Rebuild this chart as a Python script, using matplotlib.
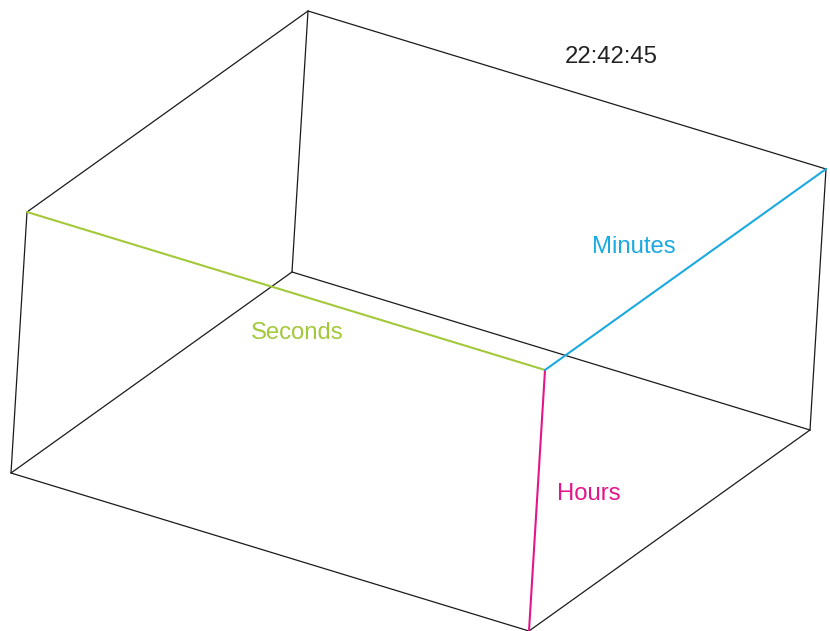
import numpy as np
import matplotlib
matplotlib.use("Agg")
import matplotlib.pyplot as plt

# time shown by the box: width = seconds, depth = minutes, height = hours
HOURS = 22
MINUTES = 42
SECONDS = 45

TIME_LABEL = "22:42:45"
EDGE_LABELS = ["Seconds", "Minutes", "Hours"]
EDGE_COLORS = ["#a3c83a", "#1aa9e1", "#e4148a"]

# oblique projection (pixel offset per unit along each axis)
ORIGIN = np.array([11.0, 473.0])
S_VEC = np.array([518.0, 158.0]) / 45
M_VEC = np.array([281.0, -201.0]) / 42
H_VEC = np.array([16.0, -261.0]) / 22

W, H = 830, 631


def project(s, m, h):
    return ORIGIN + s * S_VEC + m * M_VEC + h * H_VEC


def main():
    plt.rcParams["font.family"] = ["Liberation Sans", "DejaVu Sans"]
    fig = plt.figure(figsize=(W / 100, H / 100), dpi=100)
    ax = fig.add_axes([0, 0, 1, 1])
    ax.set_xlim(0, W)
    ax.set_ylim(H, 0)
    ax.axis("off")

    corners = {}
    for s in (0, SECONDS):
        for m in (0, MINUTES):
            for h in (0, HOURS):
                corners[(s, m, h)] = project(s, m, h)

    front = (SECONDS, 0, HOURS)
    colored = {
        ((0, 0, HOURS), front): 0,
        ((SECONDS, MINUTES, HOURS), front): 1,
        ((SECONDS, 0, 0), front): 2,
    }

    keys = list(corners)
    for i, a in enumerate(keys):
        for b in keys[i + 1:]:
            diff = sum(x != y for x, y in zip(a, b))
            if diff != 1:
                continue
            idx = colored.get((a, b), colored.get((b, a)))
            pa, pb = corners[a], corners[b]
            if idx is None:
                ax.plot([pa[0], pb[0]], [pa[1], pb[1]], color="#1a1a1a",
                        lw=0.9, solid_capstyle="round", zorder=1)
            else:
                ax.plot([pa[0], pb[0]], [pa[1], pb[1]], color=EDGE_COLORS[idx],
                        lw=1.5, solid_capstyle="round", zorder=2)

    fs = 17.2
    ax.text(611, 57, TIME_LABEL, fontsize=fs, color="#222222",
            ha="center", va="center")
    ax.text(297, 333, EDGE_LABELS[0], fontsize=fs, color=EDGE_COLORS[0],
            ha="center", va="center")
    ax.text(634, 247, EDGE_LABELS[1], fontsize=fs, color=EDGE_COLORS[1],
            ha="center", va="center")
    ax.text(589, 494, EDGE_LABELS[2], fontsize=fs, color=EDGE_COLORS[2],
            ha="center", va="center")

    fig.savefig("out.png", dpi=100)


if __name__ == "__main__":
    main()
